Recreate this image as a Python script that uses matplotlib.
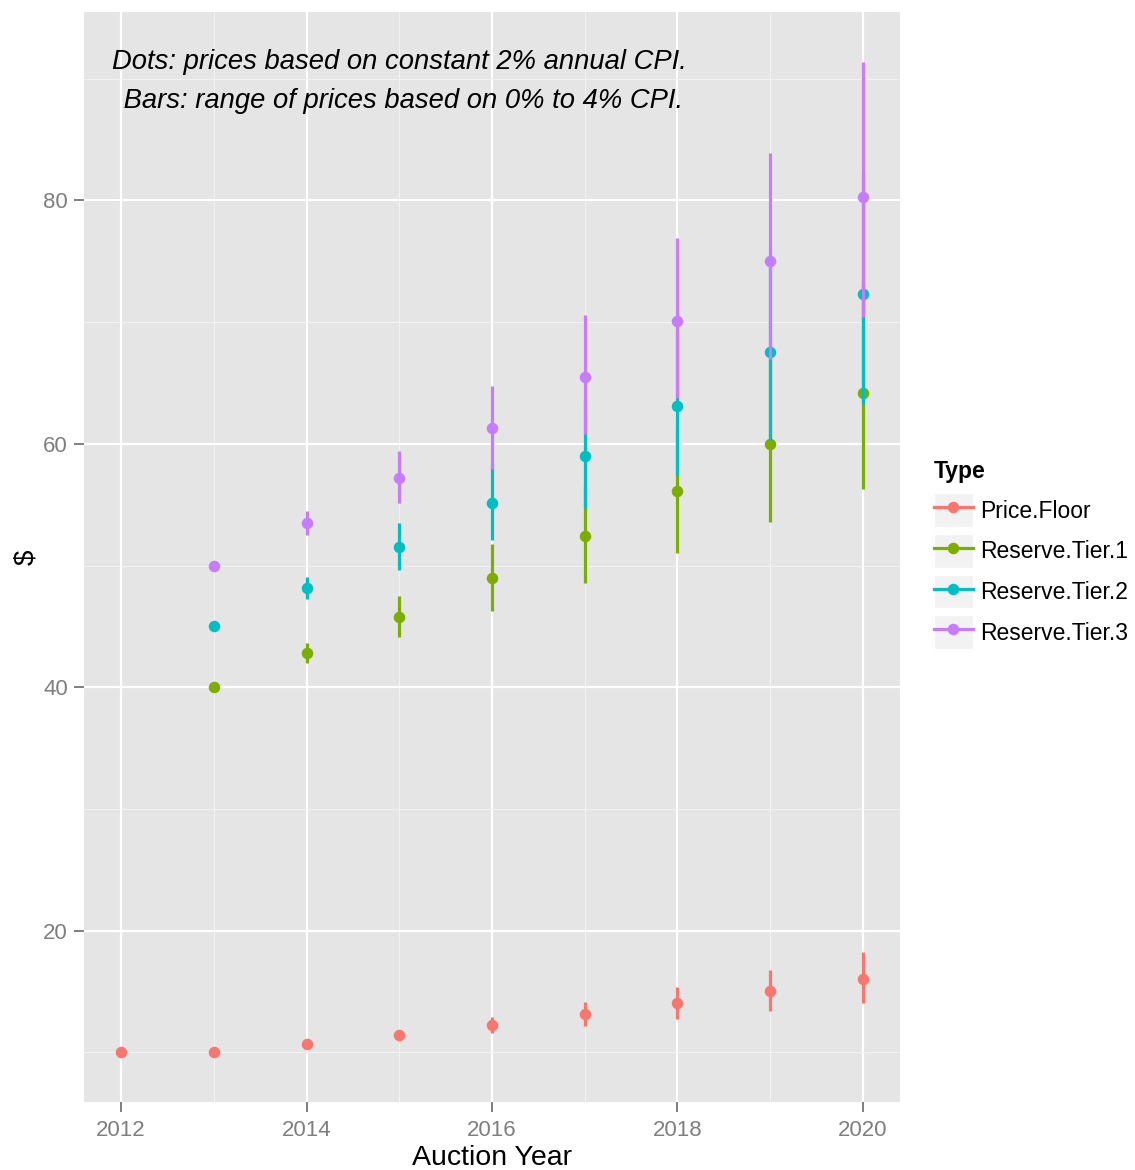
import matplotlib
matplotlib.use("Agg")
import matplotlib.pyplot as plt
from matplotlib.lines import Line2D
from matplotlib.patches import Rectangle
from matplotlib.legend_handler import HandlerLine2D

plt.rcParams['font.family'] = ['Liberation Sans', 'DejaVu Sans']

# Daten
years = [2012, 2013, 2014, 2015, 2016, 2017, 2018, 2019, 2020]
types = ['Price.Floor', 'Reserve.Tier.1', 'Reserve.Tier.2', 'Reserve.Tier.3']
colors = ['#F8766D', '#7CAE00', '#00BFC4', '#C77CFF']

floor_mid = [10.0, 10.0, 10.71, 11.46, 12.26, 13.12, 14.04, 15.02, 16.07]
floor_low = [10.0, 10.0, 10.5, 11.03, 11.58, 12.16, 12.76, 13.40, 14.07]
floor_high = [10.0, 10.0, 10.9, 11.88, 12.95, 14.12, 15.39, 16.77, 18.28]

tier_years = [2013, 2014, 2015, 2016, 2017, 2018, 2019, 2020]
tier1_mid = [40.0, 42.8, 45.8, 49.0, 52.4, 56.1, 60.0, 64.2]
tier1_low = [40.0, 42.0, 44.1, 46.3, 48.6, 51.05, 53.6, 56.3]
tier1_high = [40.0, 43.6, 47.5, 51.8, 56.5, 61.5, 67.1, 73.1]
tier2_mid = [45.0, 48.15, 51.5, 55.1, 59.0, 63.1, 67.5, 72.3]
tier2_low = [45.0, 47.25, 49.6, 52.1, 54.7, 57.4, 60.3, 63.3]
tier2_high = [45.0, 49.05, 53.5, 58.3, 63.5, 69.2, 75.5, 82.3]
tier3_mid = [50.0, 53.5, 57.2, 61.3, 65.5, 70.1, 75.0, 80.3]
tier3_low = [50.0, 52.5, 55.1, 57.9, 60.8, 63.8, 67.0, 70.4]
tier3_high = [50.0, 54.5, 59.4, 64.75, 70.6, 76.9, 83.9, 91.4]

series = [
    (years, floor_mid, floor_low, floor_high),
    (tier_years, tier1_mid, tier1_low, tier1_high),
    (tier_years, tier2_mid, tier2_low, tier2_high),
    (tier_years, tier3_mid, tier3_low, tier3_high),
]


class KeyHandler(HandlerLine2D):
    # grauer Hintergrund hinter jedem Legendenschluessel
    def create_artists(self, legend, orig_handle, xdescent, ydescent,
                       width, height, fontsize, trans):
        arts = super().create_artists(legend, orig_handle, xdescent, ydescent,
                                      width, height, fontsize, trans)
        rect = Rectangle((-xdescent, -ydescent - 0.12 * height), width, height * 1.24,
                         facecolor='#F2F2F2', edgecolor='white', linewidth=1,
                         transform=trans)
        return [rect] + arts


fig = plt.figure(figsize=(11.35, 11.7), dpi=100)
ax = fig.add_axes([84 / 1135, 1 - 1102 / 1170, 816 / 1135, 1090 / 1170])
ax.set_facecolor('#E5E5E5')

# Punkte zuerst, dann Balken (wie ggplot-Layer)
for (xs, mid, lo, hi), c in zip(series, colors):
    ax.plot(xs, mid, 'o', color=c, markersize=8.3, markeredgewidth=0, zorder=3)
for (xs, mid, lo, hi), c in zip(series, colors):
    ax.vlines(xs, lo, hi, color=c, linewidth=2.3, zorder=4)

ax.set_xlim(2011.6, 2020.4)
ax.set_ylim(5.93, 95.47)
ax.set_xticks([2012, 2014, 2016, 2018, 2020])
ax.set_xticks([2013, 2015, 2017, 2019], minor=True)
ax.set_yticks([20, 40, 60, 80])
ax.set_yticks([10, 30, 50, 70, 90], minor=True)
ax.grid(which='major', color='white', linewidth=1.6, zorder=0)
ax.grid(which='minor', color='#F2F2F2', linewidth=0.8, zorder=0)
ax.set_axisbelow(True)
for s in ax.spines.values():
    s.set_visible(False)
ax.tick_params(which='major', length=7, width=1.4, color='#7F7F7F',
               labelcolor='#7F7F7F', labelsize=16)
ax.tick_params(axis='x', pad=6)
ax.tick_params(axis='y', pad=4.5)
ax.tick_params(which='minor', length=0)

ax.set_xlabel('Auction Year', fontsize=20.5, labelpad=3)
ax.set_ylabel('$', fontsize=20, labelpad=3)

ax.text(2015, 89.75, 'Dots: prices based on constant 2% annual CPI.\n'
        ' Bars: range of prices based on 0% to 4% CPI.',
        ha='center', va='center', fontsize=19.7, style='italic',
        multialignment='center', linespacing=1.65, zorder=5)

handles = [Line2D([], [], color=c, marker='o', markersize=8.3, markeredgewidth=0,
                  linewidth=2.3) for c in colors]
leg = fig.legend(handles, types, loc='upper left',
                 bbox_to_anchor=(934 / 1135, 1 - 460 / 1170),
                 frameon=False, fontsize=16.5, title='Type',
                 title_fontproperties={'weight': 'bold', 'size': 16.5},
                 handlelength=1.7, handleheight=1.45, labelspacing=0.59,
                 handletextpad=0.3, borderpad=0, borderaxespad=0,
                 alignment='left', handler_map={Line2D: KeyHandler()})

fig.savefig('out.png', dpi=100)
